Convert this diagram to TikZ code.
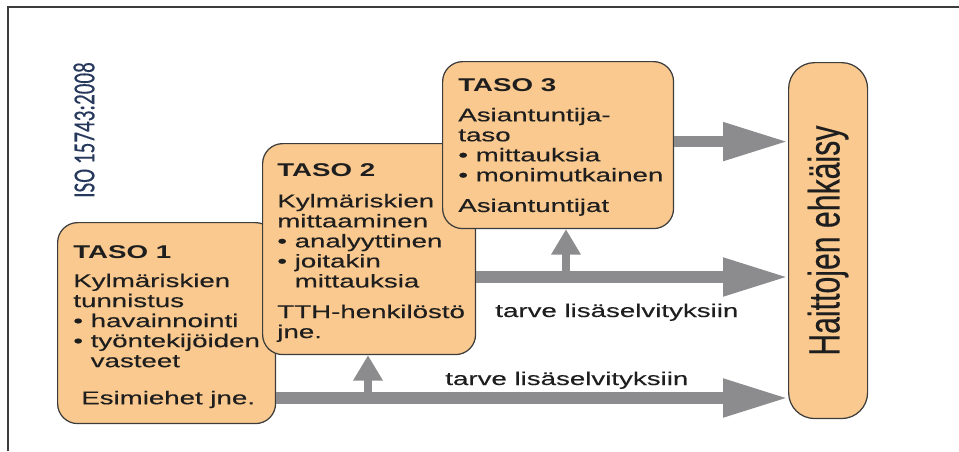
\documentclass[tikz,border=0pt]{standalone}
\usepackage{fontspec}
\setmainfont{Liberation Sans}[FakeStretch=1.5,UprightFeatures={FakeBold=0.35}]
\newfontfamily\narrowsans{Liberation Sans}[FakeBold=0.3]
\newfontfamily\isofont{Carlito}[FakeBold=0.3]
\usetikzlibrary{arrows.meta}
\definecolor{boxfill}{HTML}{F9C98F}
\definecolor{boxline}{HTML}{3C3C3C}
\definecolor{arrowgray}{HTML}{8C8C8E}
\definecolor{isoblue}{HTML}{26385C}
\definecolor{txt}{HTML}{1E1E1E}

\begin{document}
\begin{tikzpicture}[x=0.02cm,y=-0.02cm,
  box/.style={draw=boxline,fill=boxfill,line width=0.7pt,rounded corners=0.4cm,inner sep=0pt,anchor=north west},
  boxtext/.style={anchor=north west,inner sep=0pt,align=left,text=txt,font=\fontsize{10.5}{11.4}\selectfont},
  needlabel/.style={anchor=base west,inner sep=0pt,text=txt,font=\fontsize{10.5}{12}\selectfont},
  bigarrow/.style={arrowgray,line width=6.3pt,-{Triangle[length=37pt,width=20.5pt]}},
  smallarrow/.style={arrowgray,line width=5pt,-{Triangle[length=14.5pt,width=16pt]}}]
\useasboundingbox (0,0) rectangle (959,451);
\draw[boxline,line width=0.9pt] (8,451) -- (8,7) -- (959,7);

\node[rotate=90,text=isoblue] (iso) at (84,130) {\scalebox{1}[1.45]{\isofont\fontsize{12}{14}\selectfont ISO 15743:2008}};

\node[box,minimum width=4.36cm,minimum height=4.02cm] (taso1) at (57,222) {};
\node[boxtext] (taso1txt) at (73,245) {\textbf{TASO 1}\\[5pt]
  Kylmäriskien\\ tunnistus\\ \textbullet\ havainnointi\\ \textbullet\ työntekijöiden\\
  \hphantom{\textbullet\ }vasteet\\[9.7pt] \hspace{4.5pt}Esimiehet jne.};

\node[box,minimum width=4.26cm,minimum height=4.22cm] (taso2) at (262,143) {};
\node[boxtext] (taso2txt) at (277,163) {\textbf{TASO 2}\\[6.3pt]
  Kylmäriskien\\ mittaaminen\\ \textbullet\ analyyttinen\\ \textbullet\ joitakin\\
  \hphantom{\textbullet\ }mittauksia\\[6pt] TTH-henkilöstö\\ jne.};

\node[box,minimum width=4.62cm,minimum height=3.34cm] (taso3) at (442,61) {};
\node[boxtext] (taso3txt) at (458,78) {\textbf{TASO 3}\\[5.7pt]
  Asiantuntija-\\ taso\\ \textbullet\ mittauksia\\ \textbullet\ monimutkainen\\[6pt]
  Asiantuntijat};

\node[box,rounded corners=0.52cm,minimum width=1.58cm,minimum height=7.12cm] (haitta) at (788,62) {};
\node[rotate=90,text=txt] (haittatxt) at (haitta.center) {\scalebox{1}[1.45]{\narrowsans\fontsize{17.2}{20}\selectfont Haittojen ehkäisy}};

\coordinate (b2) at (566,277);
\coordinate (b1) at (368,398);
\draw[smallarrow] (b2) -- (b2 |- taso3.south);
\draw[smallarrow] (b1) -- (b1 |- taso2.south);
\draw[bigarrow] ([yshift=2pt]taso3.east) -- ([yshift=2pt]taso3.east -| haitta.west);
\draw[bigarrow] (b2 -| taso2.east) -- (b2 -| haitta.west);
\draw[bigarrow] (b1 -| taso1.east) -- (b1 -| haitta.west);

\node[needlabel] (need2) at (495,317) {tarve lisäselvityksiin};
\node[needlabel] (need1) at (445,385) {tarve lisäselvityksiin};
\end{tikzpicture}
\end{document}
